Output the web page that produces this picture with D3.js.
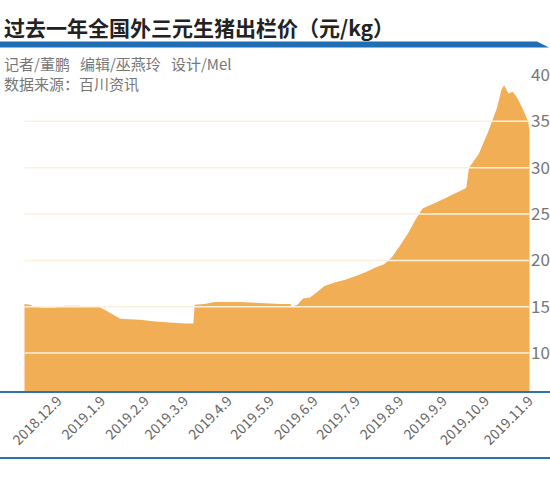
<!DOCTYPE html>
<html>
<head>
<meta charset="utf-8">
<script src="https://d3js.org/d3.v7.min.js"></script>
<style>
  body { margin: 0; background: #fff; }
  text { font-family: "Noto Sans CJK SC", "Liberation Sans", sans-serif; white-space: pre; }
</style>
</head>
<body>
<svg width="550" height="478"></svg>
<script>
// price data (元/kg)
var dates = ["2018-11-14","2018-11-18","2018-11-21","2018-11-28","2018-12-05","2018-12-13","2018-12-23","2018-12-30",
  "2019-01-06","2019-01-13","2019-01-21","2019-02-04","2019-02-15","2019-02-25","2019-03-08","2019-03-14","2019-03-15",
  "2019-03-22","2019-03-29","2019-04-16","2019-04-30","2019-05-15","2019-05-22","2019-05-23","2019-05-27","2019-05-31",
  "2019-06-05","2019-06-10","2019-06-15","2019-06-22","2019-06-30","2019-07-07","2019-07-14","2019-07-21","2019-07-28",
  "2019-08-02","2019-08-08","2019-08-14","2019-08-19","2019-08-24","2019-08-30","2019-09-06","2019-09-13","2019-09-20",
  "2019-09-24","2019-09-26","2019-10-03","2019-10-10","2019-10-16","2019-10-19","2019-10-21","2019-10-24","2019-10-27",
  "2019-10-30","2019-11-03","2019-11-07","2019-11-08"];
var prices = [15.3,15.2,15.0,14.9,14.9,15.1,15.1,15.0,
  15.0,14.4,13.7,13.6,13.4,13.3,13.2,13.2,15.2,
  15.3,15.5,15.5,15.4,15.3,15.3,15.0,15.2,15.9,
  16.0,16.6,17.2,17.6,17.9,18.3,18.7,19.2,19.6,
  20.3,21.6,23.0,24.4,25.6,26.0,26.5,27.0,27.5,
  27.8,30.0,31.5,34.0,36.5,38.4,38.9,38.0,38.2,
  37.6,36.4,35.0,34.0];
var yTicks = [10, 15, 20, 25, 30, 35, 40];
var xTickDates = ["2018-12-09","2019-01-09","2019-02-09","2019-03-09","2019-04-09","2019-05-09","2019-06-09",
  "2019-07-09","2019-08-09","2019-09-09","2019-10-09","2019-11-09"];

var parse = d3.timeParse("%Y-%m-%d");
var fmt = d3.timeFormat("%Y.%-m.%-d");
var data = dates.map(function(d, i) { return {date: parse(d), v: prices[i]}; });

var svg = d3.select("svg");
var x = d3.scaleTime().domain([parse("2018-11-14"), parse("2019-11-08")]).range([24.5, 529.5]);
var y = d3.scaleLinear().domain([5.8, 40]).range([392, 75]);

// title
svg.append("text").attr("x", 4).attr("y", 36).attr("font-size", 21).attr("font-weight", "bold")
  .attr("fill", "#222").text("过去一年全国外三元生猪出栏价（元/kg）");
svg.append("path").attr("d", "M0,41.5H537L549,47.5H0Z").attr("fill", "#1f6db5");
svg.append("text").attr("x", 4).attr("y", 70).attr("font-size", 15).attr("fill", "#777")
  .text("记者/董鹏   编辑/巫燕玲   设计/Mel");
svg.append("text").attr("x", 4).attr("y", 90).attr("font-size", 15).attr("fill", "#777")
  .text("数据来源：百川资讯");

// area
var area = d3.area().x(function(d) { return x(d.date); }).y0(y(5.8)).y1(function(d) { return y(d.v); });
svg.append("path").datum(data).attr("d", area).attr("fill", "#f2ae55");

// grid lines over the area
svg.selectAll(".grid").data(yTicks.filter(function(t) { return t < 40; })).enter().append("line")
  .attr("x1", 24.5).attr("x2", 529.5).attr("y1", function(d) { return y(d); }).attr("y2", function(d) { return y(d); })
  .attr("stroke", "#fdf1de").attr("stroke-width", 1.5);

// right axis labels
svg.selectAll(".yl").data(yTicks).enter().append("text")
  .attr("x", 531).attr("y", function(d) { return y(d) + 6; })
  .attr("font-size", 17).attr("fill", "#777").attr("font-family", "Liberation Sans")
  .text(function(d) { return d; });

// bottom axis
svg.append("line").attr("x1", 0).attr("x2", 550).attr("y1", 392).attr("y2", 392).attr("stroke", "#2f72ad").attr("stroke-width", 2);
svg.append("line").attr("x1", 0).attr("x2", 550).attr("y1", 458).attr("y2", 458).attr("stroke", "#2f72ad").attr("stroke-width", 2);
svg.selectAll(".xl").data(xTickDates.map(parse)).enter().append("text")
  .attr("transform", function(d) { return "translate(" + (x(d) + 3) + ",402) rotate(-45)"; })
  .attr("text-anchor", "end").attr("font-size", 14).attr("fill", "#666").attr("font-family", "Liberation Sans")
  .text(function(d) { return fmt(d); });
</script>
</body>
</html>
